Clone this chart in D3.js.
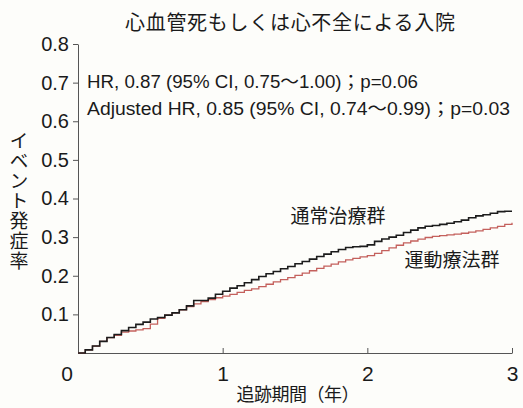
<!DOCTYPE html>
<html>
<head>
<meta charset="utf-8">
<script src="https://cdn.jsdelivr.net/npm/d3@7"></script>
<style>
  body { margin: 0; background: #fdfdfa; }
  svg { display: block; }
  text { font-family: "Liberation Sans", Arial, "Noto Sans CJK JP", sans-serif; fill: #1a1a1a; }
  .jp { font-family: "Noto Sans CJK JP", sans-serif; }
</style>
</head>
<body>
<svg width="523" height="408"></svg>
<script>

// follow-up time (years) at which the curves were read
var years = [0, 0.05, 0.1, 0.15, 0.2, 0.25, 0.3, 0.35, 0.4, 0.45,
  0.5, 0.55, 0.6, 0.65, 0.7, 0.75, 0.8, 0.85, 0.9, 0.95,
  1, 1.05, 1.1, 1.15, 1.2, 1.25, 1.3, 1.35, 1.4, 1.45,
  1.5, 1.55, 1.6, 1.65, 1.7, 1.75, 1.8, 1.85, 1.9, 1.95,
  2, 2.05, 2.1, 2.15, 2.2, 2.25, 2.3, 2.35, 2.4, 2.45,
  2.5, 2.55, 2.6, 2.65, 2.7, 2.75, 2.8, 2.85, 2.9, 2.95, 3]

// 通常治療群 (black)
var usual_care = [0, 0.008, 0.018, 0.030, 0.040, 0.048, 0.058, 0.066, 0.074, 0.080,
  0.088, 0.092, 0.098, 0.104, 0.112, 0.122, 0.136, 0.136, 0.142, 0.152,
  0.160, 0.168, 0.174, 0.182, 0.190, 0.198, 0.205, 0.211, 0.218, 0.224,
  0.231, 0.237, 0.243, 0.250, 0.256, 0.262, 0.268, 0.273, 0.275, 0.276,
  0.280, 0.289, 0.295, 0.300, 0.305, 0.312, 0.318, 0.324, 0.328, 0.330,
  0.333, 0.336, 0.340, 0.344, 0.350, 0.355, 0.358, 0.362, 0.366, 0.367, 0.367]

// 運動療法群 (red)
var exercise = [0, 0.008, 0.018, 0.030, 0.040, 0.046, 0.054, 0.057, 0.060, 0.063,
  0.075, 0.090, 0.098, 0.104, 0.112, 0.120, 0.127, 0.133, 0.138, 0.143,
  0.147, 0.152, 0.157, 0.162, 0.166, 0.172, 0.178, 0.184, 0.190, 0.195,
  0.201, 0.207, 0.213, 0.219, 0.225, 0.230, 0.236, 0.241, 0.245, 0.249,
  0.252, 0.258, 0.265, 0.272, 0.279, 0.285, 0.290, 0.295, 0.299, 0.302,
  0.304, 0.306, 0.308, 0.310, 0.313, 0.316, 0.320, 0.324, 0.328, 0.333, 0.337]

var x_ticks = [1, 2, 3]
var y_ticks = [0.1, 0.2, 0.3, 0.4, 0.5, 0.6, 0.7, 0.8]

var title = '心血管死もしくは心不全による入院'
var hr_lines = ['HR, 0.87 (95% CI, 0.75～1.00)；p=0.06',
  'Adjusted HR, 0.85 (95% CI, 0.74～0.99)；p=0.03']

var svg = d3.select('svg')

var x = d3.scaleLinear().domain([0, 3]).range([78, 512])
var y = d3.scaleLinear().domain([0, 0.8]).range([353, 44])

// y axis
var y_axis = svg.append('g')
  .attr('transform', 'translate(' + x(0) + ',0)')
  .call(d3.axisLeft(y).tickValues(y_ticks).tickFormat(d3.format('.1f'))
    .tickSize(5).tickPadding(4).tickSizeOuter(0))
y_axis.select('.domain').attr('stroke', '#555')
y_axis.selectAll('.tick line').attr('stroke', '#555')
y_axis.selectAll('.tick text').attr('font-size', 20)
  .attr('font-family', '"Liberation Sans", Arial, sans-serif').attr('fill', '#1a1a1a')

// x axis, ticks point inward
var x_axis = svg.append('g')
  .attr('transform', 'translate(0,' + y(0) + ')')
  .call(d3.axisBottom(x).tickValues(x_ticks).tickFormat(d3.format('d'))
    .tickSize(-5).tickPadding(13).tickSizeOuter(0))
x_axis.select('.domain').attr('stroke', '#555')
x_axis.selectAll('.tick line').attr('stroke', '#555')
x_axis.selectAll('.tick text').attr('font-size', 21)
  .attr('font-family', '"Liberation Sans", Arial, sans-serif').attr('fill', '#1a1a1a')

// shared origin label
svg.append('text')
  .attr('x', x(0) - 11).attr('y', y(0) + 28)
  .attr('text-anchor', 'middle').attr('font-size', 21)
  .text('0')

// curves
var series = [
  { name: '通常治療群', values: usual_care, color: '#1c1c1c', width: 1.6 },
  { name: '運動療法群', values: exercise, color: '#c4605c', width: 1.3 }
]

var line = d3.line()
  .x((d) => x(d[0]))
  .y((d) => y(d[1]))
  .curve(d3.curveStepAfter)

svg.selectAll('.km')
  .data(series.slice().reverse())
  .enter()
    .append('path')
    .attr('class', 'km')
    .attr('fill', 'none')
    .attr('stroke', (s) => s.color)
    .attr('stroke-width', (s) => s.width)
    .attr('d', (s) => line(years.map((t, i) => [t, s.values[i]])))

// curve labels
svg.append('text').attr('class', 'jp')
  .attr('x', 338).attr('y', 223).attr('text-anchor', 'middle').attr('font-size', 19)
  .text(series[0].name)
svg.append('text').attr('class', 'jp')
  .attr('x', 452).attr('y', 267).attr('text-anchor', 'middle').attr('font-size', 19)
  .text(series[1].name)

// title
svg.append('text').attr('class', 'jp')
  .attr('x', 290).attr('y', 30).attr('text-anchor', 'middle').attr('font-size', 20)
  .attr('textLength', 330).attr('lengthAdjust', 'spacing')
  .text(title)

// hazard ratios
var hr_widths = [331, 423]
svg.selectAll('.hr')
  .data(hr_lines)
  .enter()
    .append('text')
    .attr('class', 'hr')
    .attr('x', 87)
    .attr('y', (d, i) => 88 + i * 27)
    .attr('font-size', 18)
    .attr('textLength', (d, i) => hr_widths[i])
    .attr('lengthAdjust', 'spacingAndGlyphs')
    .text((d) => d)

// axis titles
svg.append('text').attr('class', 'jp')
  .attr('x', 19).attr('y', 131)
  .attr('font-size', 19)
  .style('writing-mode', 'vertical-rl')
  .style('text-orientation', 'upright')
  .style('letter-spacing', '1px')
  .text('イベント発症率')

svg.append('text').attr('class', 'jp')
  .attr('x', 298).attr('y', 401).attr('text-anchor', 'middle').attr('font-size', 18)
  .attr('textLength', 123).attr('lengthAdjust', 'spacing')
  .text('追跡期間（年）')

</script>
</body>
</html>
